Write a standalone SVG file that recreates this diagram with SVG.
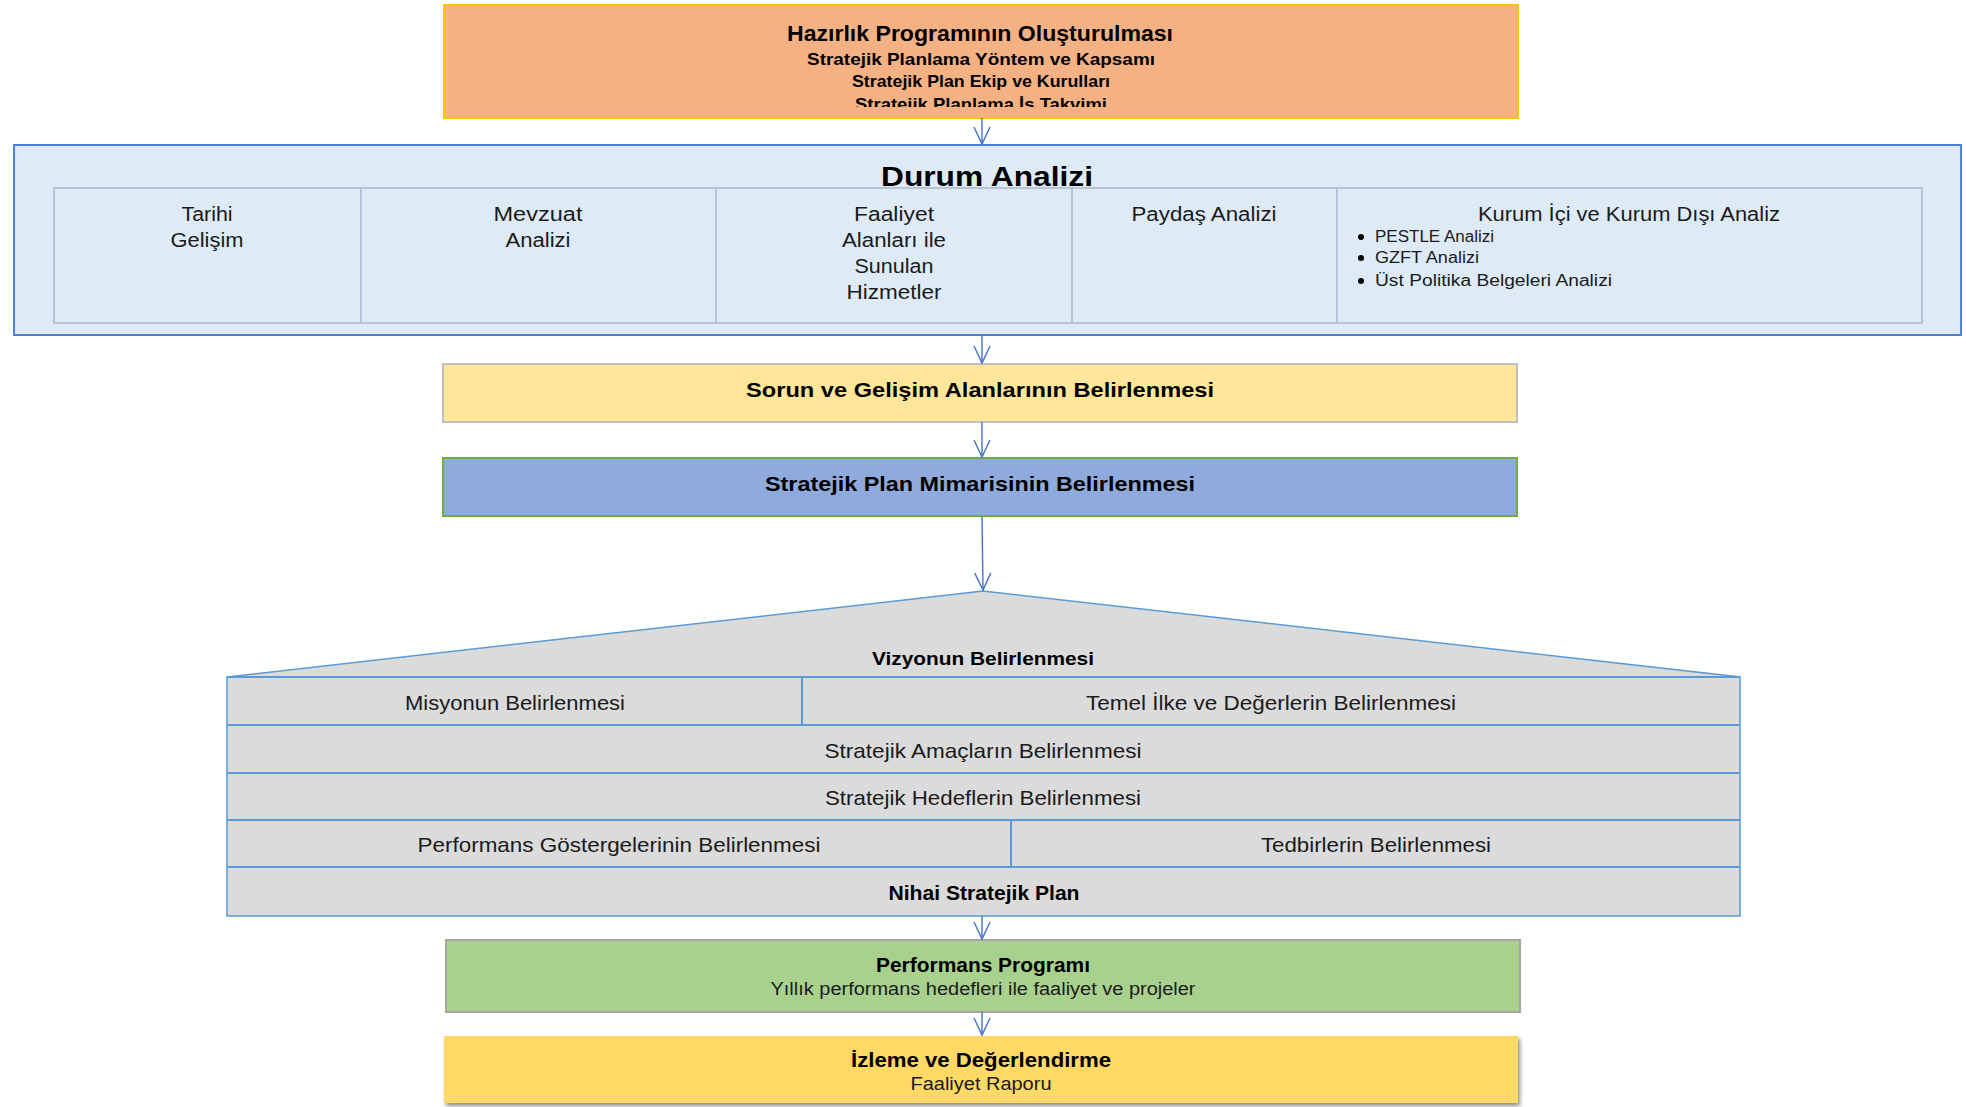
<svg xmlns="http://www.w3.org/2000/svg" width="1966" height="1107" viewBox="0 0 1966 1107">
<defs>
<style>
.t{font-family:"Liberation Sans",Arial,sans-serif;fill:#1a1a1a;}
.b{font-weight:bold;fill:#000;}
.c{text-anchor:middle;}
.conn{stroke:#4472C4;stroke-width:1.4;fill:none;}
.cell{fill:none;stroke:#A9B8CC;stroke-width:1.5;}
.row{stroke:#5B9BD5;stroke-width:2;fill:none;}
</style>
<marker id="ah" markerUnits="userSpaceOnUse" viewBox="-18 -10 20 20" refX="0" refY="0" markerWidth="20" markerHeight="20" orient="auto" overflow="visible">
<path d="M-17,-8 L0,0 L-17,8" fill="none" stroke="#4472C4" stroke-width="1.4"/>
</marker>
<clipPath id="clipTop"><rect x="444" y="5" width="1074" height="102"/></clipPath>
<filter id="sh" x="-5%" y="-20%" width="110%" height="150%">
<feDropShadow dx="2" dy="3" stdDeviation="2" flood-color="#000" flood-opacity="0.45"/>
</filter>
</defs>
<rect width="1966" height="1107" fill="#fff"/>

<g id="hazirlik">
<rect x="444" y="5" width="1074" height="113" fill="#F4B183" stroke="#FFC000" stroke-width="2"/>
<text class="t b c" x="980" y="41" font-size="22" textLength="386" lengthAdjust="spacingAndGlyphs">Hazırlık Programının Oluşturulması</text>
<text class="t b c" x="981" y="65" font-size="17" textLength="348" lengthAdjust="spacingAndGlyphs">Stratejik Planlama Yöntem ve Kapsamı</text>
<text class="t b c" x="981" y="87" font-size="17" textLength="258" lengthAdjust="spacingAndGlyphs">Stratejik Plan Ekip ve Kurulları</text>
<g clip-path="url(#clipTop)">
<text class="t b c" x="981" y="110" font-size="17" textLength="252" lengthAdjust="spacingAndGlyphs">Stratejik Planlama İş Takvimi</text>
</g>
</g>

<g id="durum">
<rect x="14" y="145" width="1947" height="190" fill="#DEEBF7" stroke="#4F81D0" stroke-width="2"/>
<text class="t b c" x="987" y="186" font-size="28" textLength="212" lengthAdjust="spacingAndGlyphs">Durum Analizi</text>
<rect class="cell" x="54" y="188" width="1868" height="135"/>
<line class="cell" x1="361" y1="188" x2="361" y2="323"/>
<line class="cell" x1="716" y1="188" x2="716" y2="323"/>
<line class="cell" x1="1072" y1="188" x2="1072" y2="323"/>
<line class="cell" x1="1337" y1="188" x2="1337" y2="323"/>
<text class="t c" x="207" y="221" font-size="20" textLength="51" lengthAdjust="spacingAndGlyphs">Tarihi</text>
<text class="t c" x="207" y="247" font-size="20" textLength="73" lengthAdjust="spacingAndGlyphs">Gelişim</text>
<text class="t c" x="538" y="221" font-size="20" textLength="89" lengthAdjust="spacingAndGlyphs">Mevzuat</text>
<text class="t c" x="538" y="247" font-size="20" textLength="65" lengthAdjust="spacingAndGlyphs">Analizi</text>
<text class="t c" x="894" y="221" font-size="20" textLength="80" lengthAdjust="spacingAndGlyphs">Faaliyet</text>
<text class="t c" x="894" y="247" font-size="20" textLength="104" lengthAdjust="spacingAndGlyphs">Alanları ile</text>
<text class="t c" x="894" y="273" font-size="20" textLength="79" lengthAdjust="spacingAndGlyphs">Sunulan</text>
<text class="t c" x="894" y="299" font-size="20" textLength="95" lengthAdjust="spacingAndGlyphs">Hizmetler</text>
<text class="t c" x="1204" y="221" font-size="20" textLength="145" lengthAdjust="spacingAndGlyphs">Paydaş Analizi</text>
<text class="t c" x="1629" y="221" font-size="20" textLength="302" lengthAdjust="spacingAndGlyphs">Kurum İçi ve Kurum Dışı Analiz</text>
<circle cx="1361" cy="237" r="3" fill="#000"/>
<circle cx="1361" cy="258" r="3" fill="#000"/>
<circle cx="1361" cy="281" r="3" fill="#000"/>
<text class="t" x="1375" y="242" font-size="16" textLength="119" lengthAdjust="spacingAndGlyphs">PESTLE Analizi</text>
<text class="t" x="1375" y="263" font-size="16" textLength="104" lengthAdjust="spacingAndGlyphs">GZFT Analizi</text>
<text class="t" x="1375" y="286" font-size="16" textLength="237" lengthAdjust="spacingAndGlyphs">Üst Politika Belgeleri Analizi</text>
</g>

<g id="sorun">
<rect x="443" y="364" width="1074" height="58" fill="#FFE699" stroke="#BFBFBF" stroke-width="2"/>
<text class="t b c" x="980" y="397" font-size="21" textLength="468" lengthAdjust="spacingAndGlyphs">Sorun ve Gelişim Alanlarının Belirlenmesi</text>
</g>

<g id="mimari">
<rect x="443" y="458" width="1074" height="58" fill="#8FAADC" stroke="#70AD47" stroke-width="2"/>
<text class="t b c" x="980" y="491" font-size="21" textLength="430" lengthAdjust="spacingAndGlyphs">Stratejik Plan Mimarisinin Belirlenmesi</text>
</g>

<g id="ev">
<polygon points="227,677 983,591 1740,677 1740,916 227,916" fill="#DBDBDB" stroke="#5B9BD5" stroke-width="1.5"/>
<line class="row" x1="227" y1="677" x2="1740" y2="677" stroke-width="3"/>
<line class="row" x1="227" y1="725" x2="1740" y2="725" stroke-width="2.5"/>
<line class="row" x1="227" y1="773" x2="1740" y2="773"/>
<line class="row" x1="227" y1="820" x2="1740" y2="820"/>
<line class="row" x1="227" y1="867" x2="1740" y2="867"/>
<line class="row" x1="802" y1="677" x2="802" y2="725" stroke-width="1.5"/>
<line class="row" x1="1011" y1="820" x2="1011" y2="867" stroke-width="1.5"/>
<text class="t b c" x="983" y="665" font-size="19" textLength="222" lengthAdjust="spacingAndGlyphs">Vizyonun Belirlenmesi</text>
<text class="t c" x="515" y="710" font-size="21" textLength="220" lengthAdjust="spacingAndGlyphs">Misyonun Belirlenmesi</text>
<text class="t c" x="1271" y="710" font-size="21" textLength="370" lengthAdjust="spacingAndGlyphs">Temel İlke ve Değerlerin Belirlenmesi</text>
<text class="t c" x="983" y="758" font-size="21" textLength="317" lengthAdjust="spacingAndGlyphs">Stratejik Amaçların Belirlenmesi</text>
<text class="t c" x="983" y="805" font-size="21" textLength="316" lengthAdjust="spacingAndGlyphs">Stratejik Hedeflerin Belirlenmesi</text>
<text class="t c" x="619" y="852" font-size="21" textLength="403" lengthAdjust="spacingAndGlyphs">Performans Göstergelerinin Belirlenmesi</text>
<text class="t c" x="1376" y="852" font-size="21" textLength="230" lengthAdjust="spacingAndGlyphs">Tedbirlerin Belirlenmesi</text>
<text class="t b c" x="984" y="900" font-size="20" textLength="191" lengthAdjust="spacingAndGlyphs">Nihai Stratejik Plan</text>
</g>

<g id="performans">
<rect x="446" y="940" width="1074" height="72" fill="#A9D18E" stroke="#A5A5A5" stroke-width="2"/>
<text class="t b c" x="983" y="972" font-size="20" textLength="214" lengthAdjust="spacingAndGlyphs">Performans Programı</text>
<text class="t c" x="983" y="995" font-size="18" textLength="425" lengthAdjust="spacingAndGlyphs">Yıllık performans hedefleri ile faaliyet ve projeler</text>
</g>

<g id="izleme">
<rect x="444" y="1036" width="1074" height="67" fill="#FFD966" filter="url(#sh)"/>
<text class="t b c" x="981" y="1067" font-size="21" textLength="260" lengthAdjust="spacingAndGlyphs">İzleme ve Değerlendirme</text>
<text class="t c" x="981" y="1090" font-size="18" textLength="141" lengthAdjust="spacingAndGlyphs">Faaliyet Raporu</text>
</g>

<g id="connectors">
<line class="conn" x1="982" y1="118" x2="982" y2="144" marker-end="url(#ah)"/>
<line class="conn" x1="982" y1="335" x2="982" y2="363" marker-end="url(#ah)"/>
<line class="conn" x1="982" y1="422" x2="982" y2="457" marker-end="url(#ah)"/>
<line class="conn" x1="982" y1="516" x2="983" y2="590" marker-end="url(#ah)"/>
<line class="conn" x1="982" y1="916" x2="982" y2="939" marker-end="url(#ah)"/>
<line class="conn" x1="982" y1="1012" x2="982" y2="1035" marker-end="url(#ah)"/>
</g>
</svg>
